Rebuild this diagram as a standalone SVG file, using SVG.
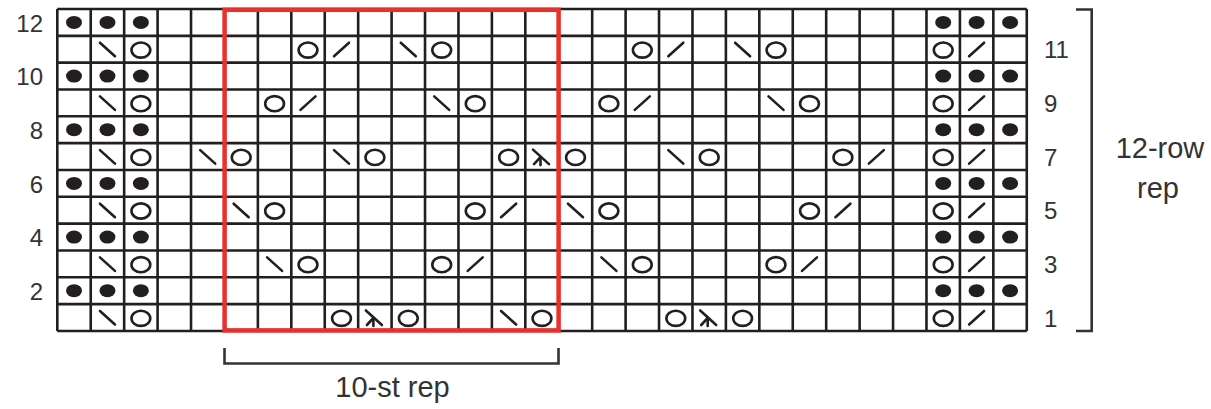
<svg xmlns="http://www.w3.org/2000/svg" width="1211" height="409" viewBox="0 0 1211 409">
<style>
.grid{fill:none;stroke:#231f20;stroke-width:2.6}
.sym{fill:none;stroke:#231f20;stroke-width:2.6;stroke-linecap:round}
.dot{fill:#231f20}
.lbl{font-family:"Liberation Sans",Arial,sans-serif;font-size:24px;fill:#333}
.big{font-family:"Liberation Sans",Arial,sans-serif;font-size:29px;fill:#333;text-anchor:middle}
.brk{fill:none;stroke:#333;stroke-width:2.6}
</style>
<defs>
<ellipse id="d" class="dot" cx="0" cy="0" rx="8" ry="6.5"/>
<ellipse id="o" class="sym" cx="0" cy="0.8" rx="9.4" ry="7.6"/>
<line id="b" class="sym" x1="-7.5" y1="-6.5" x2="7.5" y2="7"/>
<line id="f" class="sym" x1="-7.5" y1="7" x2="7.5" y2="-6.5"/>
<g id="k" class="sym"><line x1="-9" y1="-7" x2="7" y2="7.5"/><line x1="-1.5" y1="0.5" x2="-8" y2="7.5"/><line x1="-1.5" y1="0.5" x2="-1.5" y2="8.5"/></g>
</defs>
<g id="grid">
<path class="grid" d="M57.3 9V331M90.73 9V331M124.16 9V331M157.59 9V331M191.02 9V331M224.45 9V331M257.88 9V331M291.31 9V331M324.74 9V331M358.17 9V331M391.6 9V331M425.03 9V331M458.46 9V331M491.89 9V331M525.32 9V331M558.75 9V331M592.18 9V331M625.61 9V331M659.04 9V331M692.47 9V331M725.9 9V331M759.33 9V331M792.76 9V331M826.19 9V331M859.62 9V331M893.05 9V331M926.48 9V331M959.91 9V331M993.34 9V331M1026.77 9V331M57.3 9H1026.77M57.3 35.83H1026.77M57.3 62.66H1026.77M57.3 89.49H1026.77M57.3 116.32H1026.77M57.3 143.15H1026.77M57.3 169.98H1026.77M57.3 196.81H1026.77M57.3 223.64H1026.77M57.3 250.47H1026.77M57.3 277.3H1026.77M57.3 304.13H1026.77M57.3 330.96H1026.77"/>
</g>
<g id="purl-rows">
<use href="#d" x="74" y="22.4"/><use href="#d" x="107.45" y="22.4"/><use href="#d" x="140.88" y="22.4"/><use href="#d" x="943.2" y="22.4"/><use href="#d" x="976.6" y="22.4"/><use href="#d" x="1010.1" y="22.4"/>
<use href="#d" x="74" y="76.1"/><use href="#d" x="107.45" y="76.1"/><use href="#d" x="140.88" y="76.1"/><use href="#d" x="943.2" y="76.1"/><use href="#d" x="976.6" y="76.1"/><use href="#d" x="1010.1" y="76.1"/>
<use href="#d" x="74" y="129.7"/><use href="#d" x="107.45" y="129.7"/><use href="#d" x="140.88" y="129.7"/><use href="#d" x="943.2" y="129.7"/><use href="#d" x="976.6" y="129.7"/><use href="#d" x="1010.1" y="129.7"/>
<use href="#d" x="74" y="183.4"/><use href="#d" x="107.45" y="183.4"/><use href="#d" x="140.88" y="183.4"/><use href="#d" x="943.2" y="183.4"/><use href="#d" x="976.6" y="183.4"/><use href="#d" x="1010.1" y="183.4"/>
<use href="#d" x="74" y="237.1"/><use href="#d" x="107.45" y="237.1"/><use href="#d" x="140.88" y="237.1"/><use href="#d" x="943.2" y="237.1"/><use href="#d" x="976.6" y="237.1"/><use href="#d" x="1010.1" y="237.1"/>
<use href="#d" x="74" y="290.7"/><use href="#d" x="107.45" y="290.7"/><use href="#d" x="140.88" y="290.7"/><use href="#d" x="943.2" y="290.7"/><use href="#d" x="976.6" y="290.7"/><use href="#d" x="1010.1" y="290.7"/>
</g>
<g id="row11">
<use href="#b" x="107.45" y="49.25"/><use href="#o" x="140.88" y="49.25"/><use href="#o" x="308" y="49.25"/><use href="#f" x="341.5" y="49.25"/><use href="#b" x="408.3" y="49.25"/><use href="#o" x="441.7" y="49.25"/><use href="#o" x="642.3" y="49.25"/><use href="#f" x="675.8" y="49.25"/><use href="#b" x="742.6" y="49.25"/><use href="#o" x="776" y="49.25"/><use href="#o" x="943.2" y="49.25"/><use href="#f" x="976.6" y="49.25"/>
</g>
<g id="row9">
<use href="#b" x="107.45" y="102.9"/><use href="#o" x="140.88" y="102.9"/><use href="#o" x="274.6" y="102.9"/><use href="#f" x="308" y="102.9"/><use href="#b" x="441.7" y="102.9"/><use href="#o" x="475.2" y="102.9"/><use href="#o" x="608.9" y="102.9"/><use href="#f" x="642.3" y="102.9"/><use href="#b" x="776" y="102.9"/><use href="#o" x="809.5" y="102.9"/><use href="#o" x="943.2" y="102.9"/><use href="#f" x="976.6" y="102.9"/>
</g>
<g id="row7">
<use href="#b" x="107.45" y="156.6"/><use href="#o" x="140.88" y="156.6"/><use href="#b" x="207.7" y="156.6"/><use href="#o" x="241.2" y="156.6"/><use href="#b" x="341.5" y="156.6"/><use href="#o" x="374.9" y="156.6"/><use href="#o" x="508.6" y="156.6"/><use href="#k" x="542" y="156.6"/><use href="#o" x="575.5" y="156.6"/><use href="#b" x="675.8" y="156.6"/><use href="#o" x="709.2" y="156.6"/><use href="#o" x="842.9" y="156.6"/><use href="#f" x="876.3" y="156.6"/><use href="#o" x="943.2" y="156.6"/><use href="#f" x="976.6" y="156.6"/>
</g>
<g id="row5">
<use href="#b" x="107.45" y="210.2"/><use href="#o" x="140.88" y="210.2"/><use href="#b" x="241.2" y="210.2"/><use href="#o" x="274.6" y="210.2"/><use href="#o" x="475.2" y="210.2"/><use href="#f" x="508.6" y="210.2"/><use href="#b" x="575.5" y="210.2"/><use href="#o" x="608.9" y="210.2"/><use href="#o" x="809.5" y="210.2"/><use href="#f" x="842.9" y="210.2"/><use href="#o" x="943.2" y="210.2"/><use href="#f" x="976.6" y="210.2"/>
</g>
<g id="row3">
<use href="#b" x="107.45" y="263.9"/><use href="#o" x="140.88" y="263.9"/><use href="#b" x="274.6" y="263.9"/><use href="#o" x="308" y="263.9"/><use href="#o" x="441.7" y="263.9"/><use href="#f" x="475.2" y="263.9"/><use href="#b" x="608.9" y="263.9"/><use href="#o" x="642.3" y="263.9"/><use href="#o" x="776" y="263.9"/><use href="#f" x="809.5" y="263.9"/><use href="#o" x="943.2" y="263.9"/><use href="#f" x="976.6" y="263.9"/>
</g>
<g id="row1">
<use href="#b" x="107.45" y="317.5"/><use href="#o" x="140.88" y="317.5"/><use href="#o" x="341.5" y="317.5"/><use href="#k" x="374.9" y="317.5"/><use href="#o" x="408.3" y="317.5"/><use href="#b" x="508.6" y="317.5"/><use href="#o" x="542" y="317.5"/><use href="#o" x="675.8" y="317.5"/><use href="#k" x="709.2" y="317.5"/><use href="#o" x="742.6" y="317.5"/><use href="#o" x="943.2" y="317.5"/><use href="#f" x="976.6" y="317.5"/>
</g>
<g id="repeat-box">
<rect x="224.6" y="9.8" width="334" height="320.6" fill="none" stroke="#e8302c" stroke-width="4.5"/>
</g>
<g id="row-numbers-left" class="lbl" text-anchor="end">
<text x="43" y="31.6">12</text><text x="43" y="85.3">10</text><text x="43" y="138.9">8</text><text x="43" y="192.6">6</text><text x="43" y="246.3">4</text><text x="43" y="299.9">2</text>
</g>
<g id="row-numbers-right" class="lbl">
<text x="1044" y="58.3">11</text><text x="1044" y="112">9</text><text x="1044" y="165.7">7</text><text x="1044" y="219.3">5</text><text x="1044" y="273">3</text><text x="1044" y="326.5">1</text>
</g>
<g id="row-bracket">
<path class="brk" d="M1076 9.5H1091.7V331H1076"/>
<text class="big" x="1160" y="158">12-row</text>
<text class="big" x="1158" y="197.5">rep</text>
</g>
<g id="stitch-bracket">
<path class="brk" d="M224.5 348V363.5H558.5V348"/>
<text class="big" x="392.5" y="396.5">10-st rep</text>
</g>
</svg>
